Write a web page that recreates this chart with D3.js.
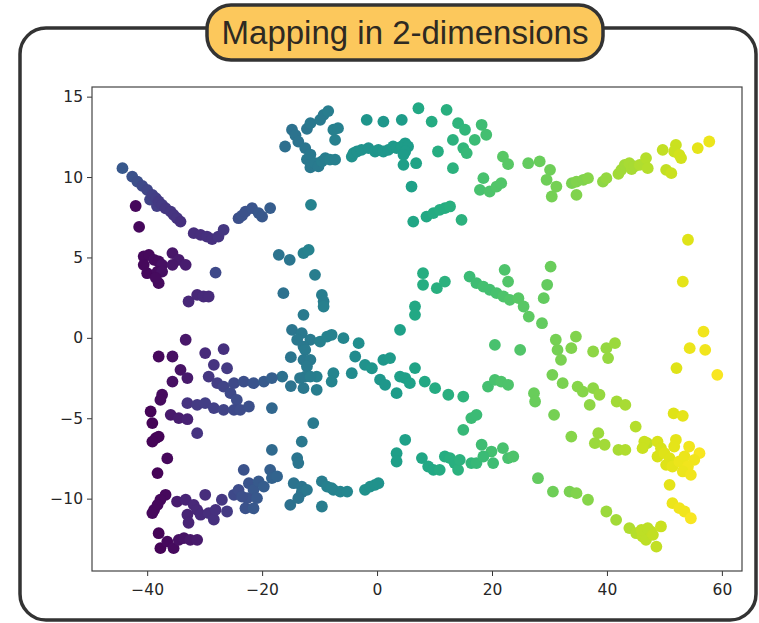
<!DOCTYPE html>
<html>
<head>
<meta charset="utf-8">
<script src="https://cdn.jsdelivr.net/npm/d3@7"></script>
<style>
  body { margin: 0; background: #fff; }
  svg { display: block; }
</style>
</head>
<body>
<svg id="chart" width="759" height="623"></svg>
<script>
// Embedded points: [x, y, colour value 0..1 on the viridis ramp]
const upperBand = [
  [-44.3,10.55,.27],[-42.6,10.03,.25],[-41.7,9.72,.24],[-40.85,9.45,.22],[-40.0,9.2,.21],[-39.5,8.6,.2],
  [-39.1,8.89,.19],[-38.5,8.69,.18],[-38.3,8.2,.18],[-38.0,8.48,.17],[-37.4,8.27,.17],[-36.8,8.06,.16],
  [-35.9,7.85,.16],[-35.4,7.65,.15],[-34.8,7.44,.15],[-34.2,7.23,.14],
  [-42.0,8.2,.02],[-41.4,6.9,.02],
  [-31.9,6.51,.13],[-30.7,6.4,.13],[-29.6,6.3,.14],[-28.7,6.14,.14],[-27.6,6.3,.15],[-26.7,6.72,.16],
  [-24.1,7.44,.24],[-23.5,7.6,.25],[-22.9,7.85,.25],[-21.75,8.07,.26],[-20.6,7.76,.27],[-20.0,7.54,.27],[-18.6,8.07,.29],
  [-40.6,5.06,.02],[-39.7,5.16,.02],[-38.8,4.85,.03],[-38.0,4.75,.03],[-37.4,4.54,.04],[-35.6,5.27,.06],
  [-34.5,4.85,.07],[-33.3,4.54,.08],[-40.0,4.02,.02],[-38.2,4.12,.03],[-37.4,4.12,.04],[-40.6,4.54,.02],
  [-38.0,3.4,.03],[-38.5,3.73,.03],[-35.6,4.54,.06],
  [-28.1,4.06,.22],
  [-32.8,2.26,.11],[-31.3,2.67,.11],[-30.2,2.57,.12],[-29.3,2.57,.12],
  [-17.1,5.16,.38],[-15.2,4.85,.39],[-12.8,5.27,.43],[-11.9,5.47,.44],[-10.8,3.92,.42],[-11.5,8.27,.44],
  [-16.0,11.9,.36],[-14.8,12.94,.37],[-14.2,12.6,.38],[-13.7,12.2,.38],[-12.5,11.8,.39],[-12.2,11.1,.4],
  [-11.6,10.6,.4],[-12.2,13.0,.39],[-11.6,13.35,.4],[-9.9,13.56,.41],[-9.3,13.87,.41],[-8.5,14.1,.42],
  [-7.6,12.94,.43],[-6.8,13.04,.43],[-7.3,12.31,.43],[-11.6,11.4,.4],[-10.8,10.87,.41],[-10.2,10.66,.41],
  [-9.6,10.97,.42],[-9.0,11.18,.42],[-8.2,11.08,.43],[-7.3,11.08,.43],
  [-16.3,2.78,.37],[-9.6,2.67,.42],[-9.3,2.26,.42],[-9.3,1.95,.43],[-12.8,1.43,.41],
  [-4.4,11.27,.5],[-4.1,11.49,.5],[-3.5,11.59,.5],[-2.7,11.69,.51],[-1.5,11.8,.51],[-0.35,11.59,.52],
  [0.23,11.69,.52],[1.1,11.59,.53],[1.96,11.69,.53],[2.8,11.9,.54],[3.4,11.8,.54],[4.3,11.9,.55],
  [4.9,12.1,.55],[5.4,11.9,.55],[4.9,11.59,.55],[4.6,11.38,.55],[-1.8,13.56,.52],[1.1,13.45,.53],
  [4.3,13.56,.55],[4.6,10.76,.56],[6.8,10.86,.58],[6.0,9.41,.57],
  [7.2,14.28,.6],[9.5,13.45,.61],[12.1,14.18,.63],[13.2,12.31,.64],[10.6,11.59,.62],[13.2,10.55,.64],
  [14.1,13.35,.65],[15.3,12.94,.66],[15.0,11.8,.66],[15.6,11.49,.67],[17.0,12.31,.68],[18.2,13.25,.69],[19.0,12.63,.7],
  [6.3,7.23,.59],[8.6,7.54,.6],[9.8,7.76,.61],[10.9,7.96,.62],[11.8,8.07,.62],[12.7,8.17,.63],[14.7,7.34,.64],
  [21.9,11.27,.74],[22.8,10.8,.74],[18.5,9.93,.71],[17.9,9.2,.71],[19.6,9.1,.72],[20.8,9.41,.73],[21.6,9.62,.73],
  [26.3,10.86,.76],[28.3,10.97,.77],[30.1,10.45,.78],[29.5,9.83,.78],[31.2,9.41,.79],[30.4,8.79,.79],
  [33.9,9.62,.8],[34.7,9.72,.81],[35.9,9.83,.81],[36.7,9.93,.82],[34.7,8.89,.81],[39.3,9.72,.83],
  [39.9,9.93,.84],[42.0,10.2,.86],[42.5,10.45,.86],[43.1,10.76,.86],[43.9,10.86,.87],[44.3,10.5,.87],
  [44.8,10.66,.87],[45.7,10.76,.88],[46.8,11.18,.89],[47.1,10.55,.89],[49.7,11.69,.91],[52.0,12.0,.92],
  [51.7,11.59,.92],[52.6,11.38,.93],[52.9,11.18,.93],[50.3,10.45,.91],[51.2,10.24,.92],[55.8,11.8,.96],
  [57.8,12.21,.97],[54.1,6.1,.95],[53.2,3.5,.96]
];

const middleBand = [
  [8.0,4.02,.62],[8.0,3.3,.62],[10.4,3.09,.63],[11.8,3.5,.64],[16.1,3.81,.68],[17.3,3.4,.69],
  [18.5,3.19,.7],[19.6,2.99,.7],[20.8,2.78,.71],[22.2,4.23,.72],[22.0,2.57,.72],[22.8,3.5,.73],
  [23.1,2.36,.73],[24.6,2.47,.74],[25.5,1.95,.74],[26.4,1.32,.75],[28.7,0.91,.76],[29.0,2.47,.76],
  [29.6,3.3,.76],[30.2,4.43,.77],
  [6.6,1.95,.6],[6.6,1.43,.6],[4.0,0.5,.57],[20.5,-0.44,.71],[24.9,-0.75,.73],
  [31.1,-0.12,.79],[31.4,-0.75,.79],[32.0,-1.37,.8],[34.6,0.08,.81],[33.8,-0.64,.81],[37.6,-0.85,.83],
  [40.2,-1.26,.84],[39.9,-0.64,.84],[41.4,-0.33,.85],
  [56.8,0.39,.98],[54.4,-0.64,.97],[57.1,-0.75,.98],[52.1,-1.88,.95],[59.2,-2.3,.99],
  [-14.8,0.5,.39],[-13.1,0.29,.4],[-13.9,-0.12,.4],[-11.6,-0.12,.41],[-12.8,-0.54,.4],[-12.5,-0.75,.41],
  [-15.0,-1.2,.39],[-12.8,-1.37,.4],[-11.6,-1.37,.41],[-12.2,-1.78,.41],[-9.9,-0.23,.43],[-8.7,0.08,.44],
  [-7.9,0.19,.44],[-5.85,-0.02,.46],[-3.2,-0.33,.49],[-3.8,-1.16,.48],
  [-12.5,-2.41,.41],[-10.5,-2.41,.43],[-7.6,-2.2,.45],[-7.9,-2.72,.45],[-4.4,-2.2,.48],[-12.8,-3.13,.4],
  [-10.5,-3.23,.42],[-15.0,-3.0,.38],[-16.5,-2.41,.37],[-13.4,-2.5,.4],[-11.6,-2.41,.42],
  [-2.1,-1.68,.51],[-0.9,-1.89,.52],[1.1,-1.37,.53],[2.26,-1.26,.54],[0.52,-2.6,.53],[1.4,-2.92,.53],
  [3.4,-3.44,.55],[4.0,-2.41,.56],[4.9,-2.5,.56],[5.7,-2.82,.57],[6.6,-1.88,.58],[8.3,-2.72,.6],
  [10.1,-3.13,.61],[12.4,-3.54,.63],[15.0,-3.65,.65],
  [19.3,-3.03,.7],[20.5,-2.61,.71],[21.6,-2.72,.72],[22.8,-2.92,.72],
  [27.3,-3.44,.77],[27.5,-3.96,.77],[30.5,-2.3,.79],[32.3,-2.82,.8],[34.9,-3.03,.82],[35.8,-3.34,.82],
  [37.6,-3.13,.83],[38.7,-3.54,.84],[37.0,-4.17,.83],[41.7,-3.96,.86],[43.2,-4.17,.87],[30.8,-4.79,.79],
  [33.8,-6.14,.82],[38.5,-5.93,.85],[37.9,-6.55,.85],[39.6,-6.65,.86],[42.0,-6.97,.87],[43.2,-6.97,.88],
  [45.0,-5.52,.89],[47.0,-6.55,.9],
  [51.6,-4.7,.95],[53.2,-4.85,.96],
  [-33.3,-0.12,.06],[-38.0,-1.16,.02],[-35.6,-1.16,.04],[-29.9,-0.95,.12],[-26.7,-0.7,.14],[-28.4,-1.68,.15],
  [-26.1,-1.89,.17],[-34.2,-1.99,.05],[-33.0,-2.5,.07],[-35.6,-2.72,.04],
  [-29.3,-2.41,.16],[-27.8,-2.82,.18],[-26.7,-3.03,.2],[-24.9,-2.82,.22],[-23.2,-2.72,.24],[-21.5,-2.82,.26],
  [-19.7,-2.72,.28],[-18.3,-2.5,.3],
  [-25.5,-3.44,.22],[-24.4,-3.86,.23],
  [-37.4,-3.54,.03],[-37.7,-3.86,.03],
  [-33.0,-4.06,.15],[-31.3,-4.17,.17],[-29.9,-4.06,.18],[-28.4,-4.37,.19],[-26.7,-4.48,.2],[-24.9,-4.48,.22],
  [-23.8,-4.48,.23],[-22.3,-4.27,.24],
  [-35.9,-4.79,.07],[-34.5,-4.99,.08],[-33.0,-5.06,.09],
  [-39.4,-4.58,.01],[-39.1,-5.3,.01],[-38.5,-6.24,.01],[-38.0,-6.14,.01],[-31.3,-5.93,.15],[-18.3,-4.37,.33],
  [-36.5,-7.5,.02],[-18.3,-6.97,.34],[-13.1,-6.45,.4],[-11.1,-5.3,.41],[-13.9,-7.48,.39],
  [4.9,-6.34,.57],[3.4,-7.17,.56],[3.4,-7.69,.56],[15.0,-5.72,.67],[16.4,-4.99,.68],[17.3,-4.79,.68],
  [18.2,-6.65,.69],[19.9,-7.07,.7],[21.9,-6.86,.71]
];

const lowerBand = [
  [-39.1,-6.45,.01],[-38.2,-8.41,.01],[-36.8,-9.76,.02],[-37.7,-10.07,.02],[-38.2,-10.39,.02],
  [-38.8,-10.7,.02],[-39.1,-10.9,.02],
  [-34.8,-10.18,.08],[-33.3,-10.07,.1],[-31.9,-10.39,.11],[-29.9,-9.76,.13],[-31.3,-10.7,.11],
  [-33.0,-11.0,.1],[-32.8,-11.5,.1],[-30.7,-11.0,.12],[-29.3,-10.9,.13],[-28.4,-11.3,.14],
  [-28.1,-10.7,.14],[-27.0,-10.07,.16],[-26.1,-10.8,.17],
  [-24.9,-9.76,.22],[-24.1,-9.45,.23],[-23.2,-8.21,.25],[-22.3,-9.04,.26],[-21.5,-9.45,.27],
  [-22.6,-9.97,.25],[-22.9,-10.6,.25],[-21.5,-10.6,.27],[-20.6,-8.93,.28],[-19.7,-9.25,.29],
  [-18.6,-8.21,.3],[-18.3,-8.72,.31],[-17.4,-8.62,.32],[-20.9,-9.97,.27],[-23.5,-9.87,.24],
  [-38.0,-12.15,.01],[-37.7,-13.08,.01],[-36.5,-12.67,.02],[-35.4,-13.08,.03],[-34.5,-12.56,.04],
  [-33.6,-12.46,.05],[-32.5,-12.56,.06],[-31.3,-12.56,.07],
  [-13.7,-7.79,.39],[-14.5,-9.04,.38],[-13.1,-9.25,.39],[-13.1,-9.6,.39],[-15.1,-10.39,.37],
  [-13.7,-9.97,.38],[-12.2,-9.45,.4],
  [-9.6,-8.93,.42],[-8.7,-9.25,.43],[-7.6,-9.45,.44],[-6.4,-9.56,.45],[-5.2,-9.56,.46],
  [-9.6,-10.49,.42],[-7.9,-9.35,.44],
  [-2.1,-9.45,.5],[-1.2,-9.25,.5],[-0.35,-9.14,.51],[0.23,-9.04,.51],
  [7.8,-7.48,.59],[8.9,-8.0,.6],[9.8,-8.21,.6],[10.9,-8.21,.61],[11.8,-7.38,.62],[12.7,-7.48,.63],
  [13.5,-7.79,.63],[14.1,-8.21,.64],[14.4,-7.59,.64],[16.4,-7.79,.66],[17.3,-7.79,.67],[18.5,-7.38,.68],
  [20.2,-7.79,.69],[22.8,-7.48,.71],[23.7,-7.38,.72],
  [28.0,-8.73,.76],[30.6,-9.56,.78],[33.5,-9.56,.8],[34.7,-9.66,.81],[36.7,-10.07,.82],[39.9,-10.8,.85],
  [41.6,-11.32,.86],[43.9,-11.83,.88],[45.1,-12.15,.89],[46.2,-12.36,.9],[46.8,-12.56,.9],
  [47.7,-12.05,.91],[48.6,-12.98,.91],[49.4,-11.73,.92],[46.0,-11.94,.9],[47.1,-11.83,.9],[48.0,-12.25,.91],
  [46.5,-6.45,.92],[46.2,-6.86,.92],[48.8,-6.45,.94],[49.4,-6.86,.94],[48.8,-7.38,.94],[50.0,-7.17,.95],
  [50.9,-7.48,.95],[52.0,-6.34,.96],[51.7,-6.76,.96],[50.3,-7.9,.95],[51.4,-8.0,.96],[52.6,-7.69,.97],
  [53.5,-7.38,.97],[54.3,-6.76,.98],[56.1,-7.17,.99],[55.2,-7.59,.98],[54.1,-8.0,.98],[53.2,-8.31,.97],
  [54.6,-8.52,.98],[50.9,-9.14,.96],
  [51.4,-10.28,.97],[52.6,-10.59,.98],[53.5,-10.8,.98],[54.6,-11.22,.99]
];

const xTicks = [-40, -20, 0, 20, 40, 60];
const yTicks = [-10, -5, 0, 5, 10, 15];
const xDomain = [-49.6, 63.5];
const yDomain = [-14.5, 15.6];
const titleText = "Mapping in 2-dimensions";

const svg = d3.select("#chart");
const plot = { left: 92, top: 87, right: 742, bottom: 571 };

// Rounded outer panel
svg.append("rect")
  .attr("x", 20).attr("y", 28)
  .attr("width", 736).attr("height", 592)
  .attr("rx", 26).attr("ry", 26)
  .attr("fill", "none")
  .attr("stroke", "#333")
  .attr("stroke-width", 3.5);

const x = d3.scaleLinear().domain(xDomain).range([plot.left, plot.right]);
const y = d3.scaleLinear().domain(yDomain).range([plot.bottom, plot.top]);
const color = d3.scaleSequential(d3.interpolateViridis).domain([0, 1]);

// Plot background
svg.append("rect")
  .attr("x", plot.left).attr("y", plot.top)
  .attr("width", plot.right - plot.left).attr("height", plot.bottom - plot.top)
  .attr("fill", "#fff");

// Scatter points
const points = upperBand.concat(middleBand, lowerBand);
svg.append("g")
  .selectAll("circle")
  .data(points)
  .join("circle")
  .attr("cx", d => x(d[0]))
  .attr("cy", d => y(d[1]))
  .attr("r", 5.9)
  .attr("fill", d => color(d[2]));

// Axes
const axisFont = "'DejaVu Sans', sans-serif";
const gx = svg.append("g")
  .attr("transform", `translate(0,${plot.bottom})`)
  .call(d3.axisBottom(x).tickValues(xTicks).tickSize(5).tickPadding(8));
const gy = svg.append("g")
  .attr("transform", `translate(${plot.left},0)`)
  .call(d3.axisLeft(y).tickValues(yTicks).tickSize(5).tickPadding(4));
[gx, gy].forEach(g => {
  g.select(".domain").remove();
  g.selectAll(".tick line").attr("stroke", "#333").attr("stroke-width", 1);
  g.selectAll(".tick text")
    .attr("fill", "#262626")
    .style("font-family", axisFont)
    .style("font-size", "15.5px");
});

// Axes frame
svg.append("rect")
  .attr("x", plot.left).attr("y", plot.top)
  .attr("width", plot.right - plot.left).attr("height", plot.bottom - plot.top)
  .attr("fill", "none")
  .attr("stroke", "#444")
  .attr("stroke-width", 1.2);

// Title badge
const badge = { x: 207, y: 5, w: 396, h: 55 };
svg.append("rect")
  .attr("x", badge.x).attr("y", badge.y)
  .attr("width", badge.w).attr("height", badge.h)
  .attr("rx", 24).attr("ry", 24)
  .attr("fill", "#fcc85c")
  .attr("stroke", "#333")
  .attr("stroke-width", 3.5);
svg.append("text")
  .attr("x", badge.x + badge.w / 2)
  .attr("y", badge.y + badge.h / 2 + 11)
  .attr("text-anchor", "middle")
  .attr("fill", "#2e2a22")
  .style("font-family", "'Liberation Sans', Arial, sans-serif")
  .style("font-size", "33px")
  .text(titleText);
</script>
</body>
</html>
